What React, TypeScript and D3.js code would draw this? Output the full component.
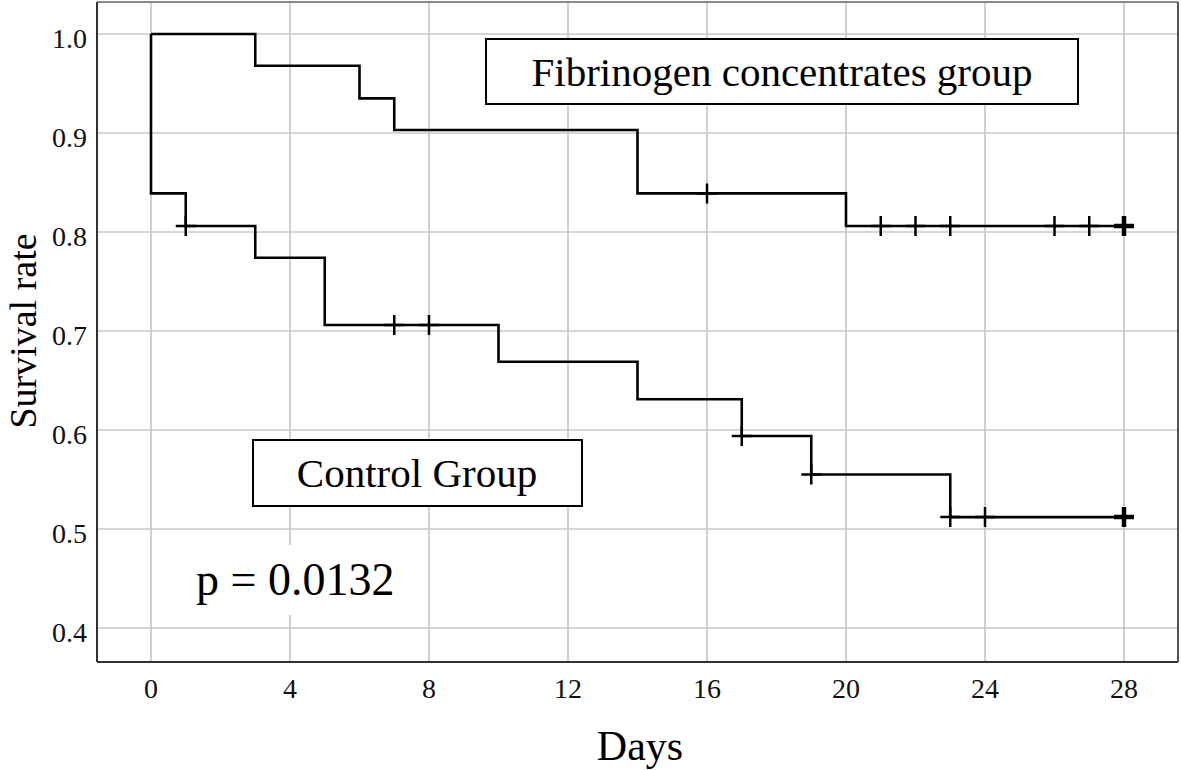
import { useMemo } from 'react';
import * as d3 from 'd3';

// Kaplan-Meier curves, 28 day survival
const WIDTH = 1181;
const HEIGHT = 770;
const FRAME = { left: 97, right: 1178, top: 2, bottom: 662 };
const FONT = '"Liberation Serif", "Times New Roman", serif';

const X_TICKS = [0, 4, 8, 12, 16, 20, 24, 28];
const Y_TICKS = [0.4, 0.5, 0.6, 0.7, 0.8, 0.9, 1.0];

// [day, survival after events on that day]
const fibrinogenSteps: [number, number][] = [
    [0, 1.0],
    [3, 0.968],
    [6, 0.935],
    [7, 0.903],
    [14, 0.839],
    [20, 0.806],
    [28, 0.806],
];
const fibrinogenCensored = [16, 21, 22, 23, 26, 27];
const fibrinogenCensoredMulti = [28];

const controlSteps: [number, number][] = [
    [0, 1.0],
    [0, 0.839],
    [1, 0.806],
    [3, 0.774],
    [5, 0.706],
    [10, 0.669],
    [14, 0.631],
    [17, 0.594],
    [19, 0.555],
    [23, 0.512],
    [28, 0.512],
];
const controlCensored = [1, 7, 8, 17, 19, 23, 24];
const controlCensoredMulti = [28];

const survivalAt = (steps: [number, number][], t: number) => {
    let v = steps[0][1];
    for (const [d, s] of steps) if (d <= t) v = s;
    return v;
};

export default function App() {
    const x = useMemo(() => d3.scaleLinear().domain([0, 28]).range([151, 1124]), []);
    const y = useMemo(() => d3.scaleLinear().domain([0.4, 1.0]).range([628, 34]), []);

    const line = d3
        .line<[number, number]>()
        .x((d) => x(d[0]))
        .y((d) => y(d[1]))
        .curve(d3.curveStepAfter);

    const plus = (t: number, steps: [number, number][], key: string, thick = false) => {
        const cx = x(t);
        const cy = y(survivalAt(steps, t));
        const h = 10;
        return (
            <path
                key={key}
                d={`M${cx - h},${cy}H${cx + h}M${cx},${cy - h}V${cy + h}`}
                stroke="#000"
                strokeWidth={thick ? 4.5 : 2.5}
                fill="none"
            />
        );
    };

    return (
        <svg
            width={WIDTH}
            height={HEIGHT}
            style={{ position: 'absolute', left: 0, top: 0, background: '#fff' }}
            fontFamily={FONT}
        >
            <rect x={0} y={0} width={WIDTH} height={HEIGHT} fill="#fff" />

            {/* grid */}
            {X_TICKS.map((t) => (
                <line key={'gx' + t} x1={x(t)} x2={x(t)} y1={FRAME.top} y2={FRAME.bottom} stroke="#c8c8c8" strokeWidth={1.7} />
            ))}
            {Y_TICKS.map((t) => (
                <line key={'gy' + t} x1={FRAME.left} x2={FRAME.right} y1={y(t)} y2={y(t)} stroke="#c8c8c8" strokeWidth={1.7} />
            ))}

            {/* p value with white background */}
            <rect x={190} y={545} width={212} height={70} fill="#fff" />
            <text x={196} y={595} fontSize={46}>
                p = 0.0132
            </text>

            {/* curves */}
            <path d={line(fibrinogenSteps) ?? ''} fill="none" stroke="#000" strokeWidth={2.6} />
            <path d={line(controlSteps) ?? ''} fill="none" stroke="#000" strokeWidth={2.6} />
            {fibrinogenCensored.map((t) => plus(t, fibrinogenSteps, 'fc' + t))}
            {fibrinogenCensoredMulti.map((t) => plus(t, fibrinogenSteps, 'fm' + t, true))}
            {controlCensored.map((t) => plus(t, controlSteps, 'cc' + t))}
            {controlCensoredMulti.map((t) => plus(t, controlSteps, 'cm' + t, true))}

            {/* legend boxes */}
            <rect x={486} y={39} width={592} height={65} fill="#fff" stroke="#000" strokeWidth={2} />
            <text x={782} y={86} fontSize={41} textAnchor="middle">
                Fibrinogen concentrates group
            </text>
            <rect x={253} y={440} width={329} height={66} fill="#fff" stroke="#000" strokeWidth={2} />
            <text x={417} y={487} fontSize={41} textAnchor="middle">
                Control Group
            </text>

            {/* frame */}
            <line x1={FRAME.left} x2={FRAME.right} y1={FRAME.top} y2={FRAME.top} stroke="#8a8a8a" strokeWidth={2} />
            <line x1={FRAME.right} x2={FRAME.right} y1={FRAME.top} y2={FRAME.bottom} stroke="#555" strokeWidth={2} />
            <line x1={FRAME.left} x2={FRAME.left} y1={FRAME.top} y2={FRAME.bottom} stroke="#333" strokeWidth={2} />
            <line x1={FRAME.left} x2={FRAME.right} y1={FRAME.bottom} y2={FRAME.bottom} stroke="#333" strokeWidth={2} />

            {/* tick labels */}
            {X_TICKS.map((t) => (
                <text key={'tx' + t} x={x(t)} y={698} fontSize={28} textAnchor="middle" fill="#111">
                    {t}
                </text>
            ))}
            {Y_TICKS.map((t) => (
                <text key={'ty' + t} x={87} y={y(t) + 14} fontSize={28} textAnchor="end" fill="#111">
                    {t.toFixed(1)}
                </text>
            ))}

            {/* axis titles */}
            <text x={640} y={760} fontSize={42} textAnchor="middle">
                Days
            </text>
            <text transform="translate(36,331) rotate(-90)" fontSize={38} textAnchor="middle">
                Survival rate
            </text>
        </svg>
    );
}
